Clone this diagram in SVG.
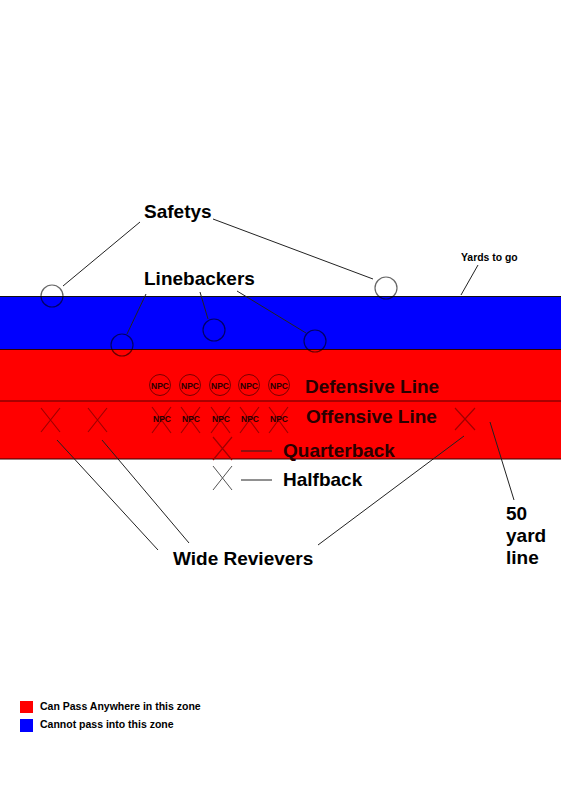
<svg xmlns="http://www.w3.org/2000/svg" width="561" height="800" viewBox="0 0 561 800">
<style>
.lbl{font-family:"Liberation Sans",Arial,sans-serif;font-weight:bold;font-size:19px;fill:#000}
.dk{fill:#2a0000}
.sm{font-family:"Liberation Sans",Arial,sans-serif;font-weight:bold;font-size:10.5px;fill:#000}
.npc{font-family:"Liberation Sans",Arial,sans-serif;font-weight:bold;font-size:8.5px;fill:#2a0000;text-anchor:middle}
.con{stroke:#222;stroke-width:1;fill:none}
.ring{stroke:#000;stroke-opacity:0.6;stroke-width:1.2;fill:none}
.rring{stroke:#7a0000;stroke-width:1;fill:none}
.x{stroke:#a00000;stroke-width:1.2;fill:none}
.xg{stroke:#555;stroke-width:1;fill:none}
</style>
<rect width="561" height="800" fill="#fff"/>
<g id="zones">
<rect x="-1" y="296.5" width="563" height="53" fill="#0000ff" stroke="#111" stroke-width="1"/>
<rect x="-1" y="349.5" width="563" height="109.5" fill="#ff0000" stroke="#300" stroke-width="1"/>
<line x1="0" y1="401" x2="561" y2="401" stroke="#500" stroke-width="1"/>
</g>
<g id="connectors">
<line class="con" x1="140" y1="222" x2="63" y2="286"/>
<line class="con" x1="213" y1="219" x2="373" y2="279"/>
<line class="con" x1="146" y1="294" x2="127" y2="334"/>
<line class="con" x1="200" y1="292" x2="208" y2="319"/>
<line class="con" x1="237" y1="291" x2="306" y2="333"/>
<line class="con" x1="478" y1="265" x2="461" y2="295"/>
<line class="con" x1="57" y1="440" x2="158" y2="550"/>
<line class="con" x1="102" y1="440" x2="189" y2="543"/>
<line class="con" x1="464" y1="436" x2="318" y2="545"/>
<line class="con" x1="490" y1="422" x2="514" y2="500"/>
<line class="con" x1="241" y1="451" x2="272" y2="451" stroke="#4a0000"/>
<line class="con" x1="241" y1="480" x2="272" y2="480"/>
</g>
<g id="safety1"><circle class="ring" cx="52" cy="296" r="11"/></g>
<g id="safety2"><circle class="ring" cx="386" cy="288" r="11"/></g>
<g id="linebacker1"><circle class="ring" cx="122" cy="345" r="11"/></g>
<g id="linebacker2"><circle class="ring" cx="214" cy="330" r="11"/></g>
<g id="linebacker3"><circle class="ring" cx="315" cy="341" r="11"/></g>
<g id="defensive-line">
<circle class="rring" cx="160" cy="385" r="10.5"/><text class="npc" x="160" y="389">NPC</text>
<circle class="rring" cx="190" cy="385" r="10.5"/><text class="npc" x="190" y="389">NPC</text>
<circle class="rring" cx="220" cy="385" r="10.5"/><text class="npc" x="220" y="389">NPC</text>
<circle class="rring" cx="249" cy="385" r="10.5"/><text class="npc" x="249" y="389">NPC</text>
<circle class="rring" cx="279" cy="385" r="10.5"/><text class="npc" x="279" y="389">NPC</text>
</g>
<g id="offensive-line">
<path class="x" d="M152 407L171 433M171 407L152 433"/><text class="npc" x="162" y="422">NPC</text>
<path class="x" d="M181 407L200 433M200 407L181 433"/><text class="npc" x="191" y="422">NPC</text>
<path class="x" d="M211 407L230 433M230 407L211 433"/><text class="npc" x="221" y="422">NPC</text>
<path class="x" d="M240 407L259 433M259 407L240 433"/><text class="npc" x="250" y="422">NPC</text>
<path class="x" d="M269 407L288 433M288 407L269 433"/><text class="npc" x="279" y="422">NPC</text>
</g>
<g id="receiver1"><path class="x" d="M41 408L60 432M60 408L41 432"/></g>
<g id="receiver2"><path class="x" d="M88 408L107 432M107 408L88 432"/></g>
<g id="receiver3"><path class="x" d="M455 408L475 430M475 408L455 430"/></g>
<g id="quarterback"><path class="x" d="M213 437L232 460M232 437L213 460"/></g>
<g id="halfback"><path class="xg" d="M213 466L232 490M232 466L213 490"/></g>
<g id="labels">
<text class="lbl" x="144" y="218">Safetys</text>
<text class="lbl" x="144" y="285">Linebackers</text>
<text class="sm" x="461" y="261" style="font-size:10.4px">Yards to go</text>
<text class="lbl dk" x="305" y="393">Defensive Line</text>
<text class="lbl dk" x="306" y="423">Offensive Line</text>
<text class="lbl dk" x="283" y="457">Quarterback</text>
<text class="lbl" x="283" y="486">Halfback</text>
<text class="lbl" x="173" y="565">Wide Revievers</text>
<text class="lbl" x="506" y="520">50</text>
<text class="lbl" x="506" y="542">yard</text>
<text class="lbl" x="506" y="564">line</text>
</g>
<g id="legend">
<rect x="20" y="701" width="13" height="12" fill="#ff0000"/>
<rect x="20" y="719" width="13" height="13" fill="#0000ff"/>
<text class="sm" x="40" y="710">Can Pass Anywhere in this zone</text>
<text class="sm" x="40" y="728">Cannot pass into this zone</text>
</g>
</svg>
